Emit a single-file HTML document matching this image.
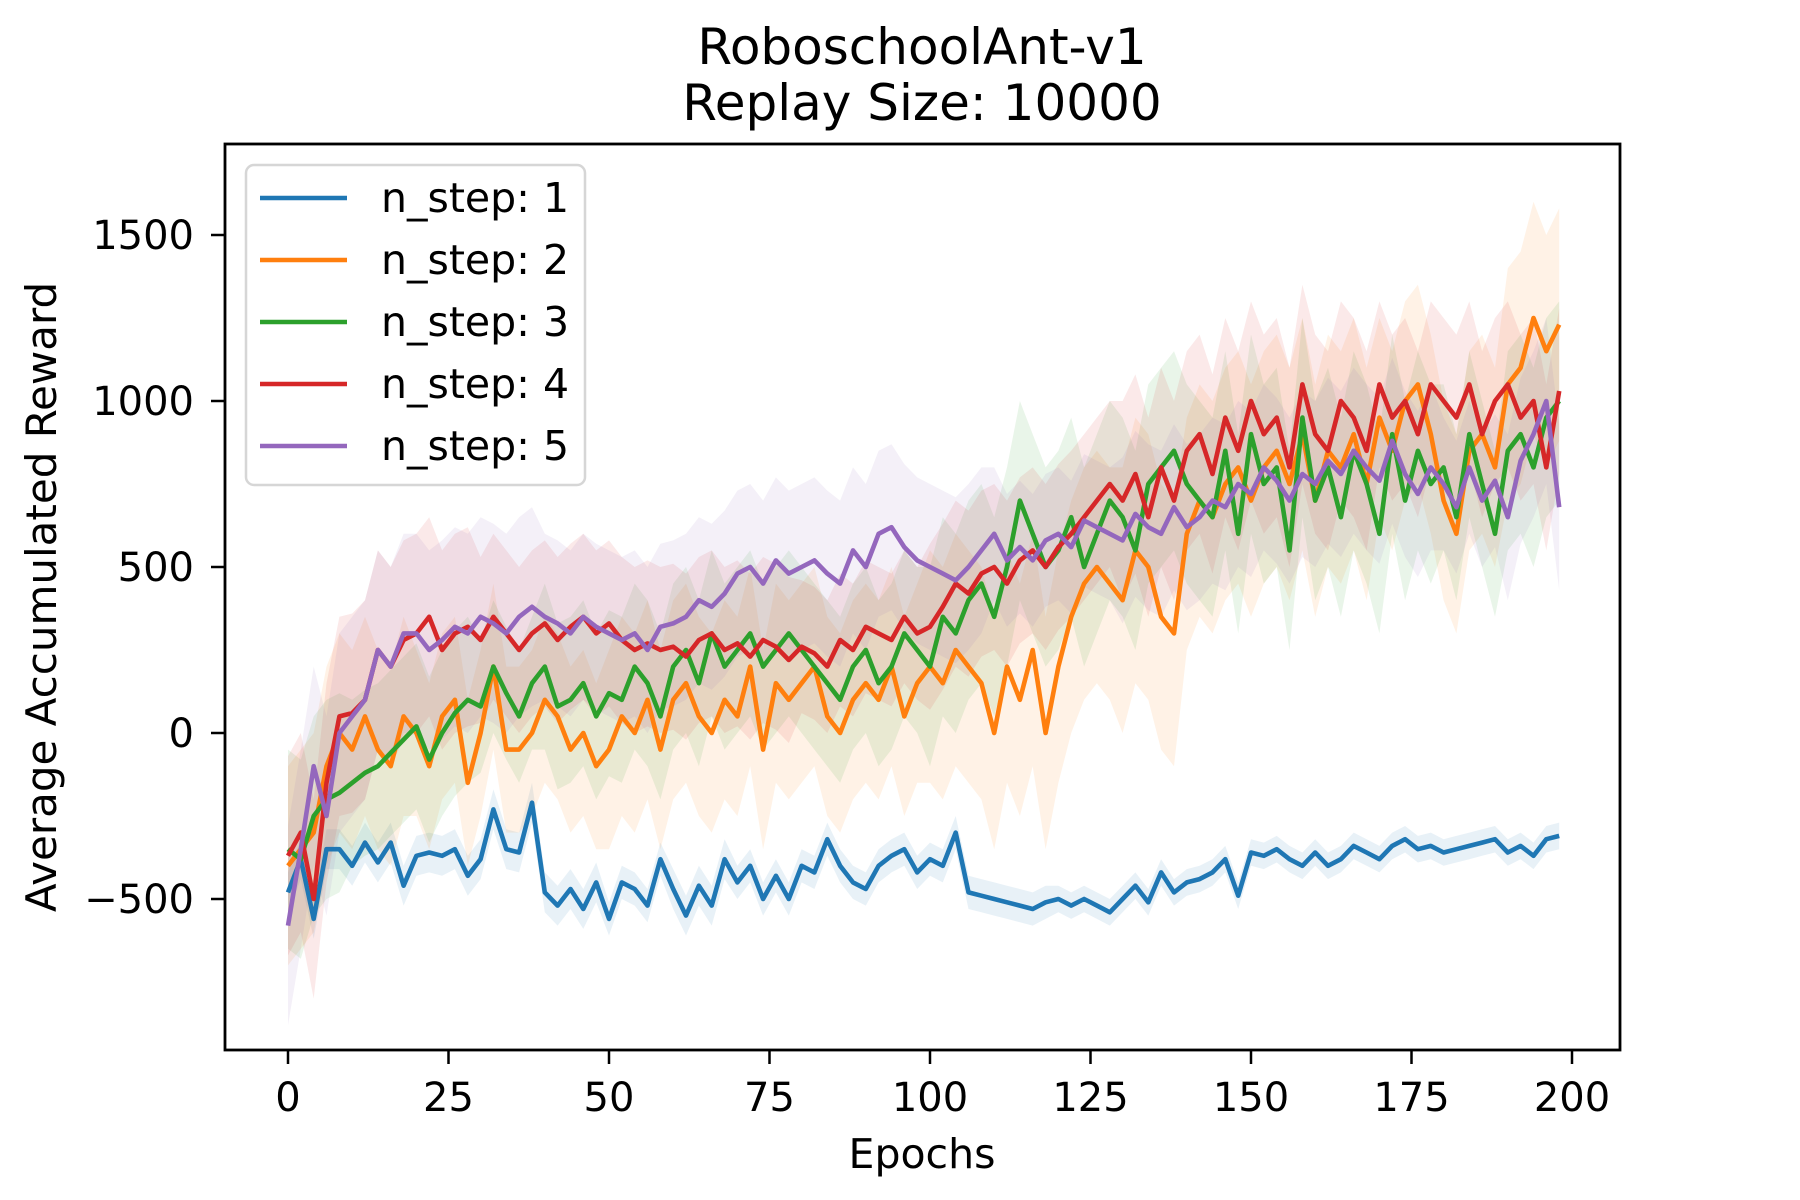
<!DOCTYPE html>
<html><head><meta charset="utf-8"><style>
html,body{margin:0;padding:0;background:#fff;}
svg{display:block;font-family:"DejaVu Sans","Liberation Sans",sans-serif;}
</style></head><body>
<svg id="chart" width="1800" height="1200" viewBox="0 0 1800 1200" xmlns="http://www.w3.org/2000/svg">
<rect width="1800" height="1200" fill="#fff"/>
<text x="922" y="64" font-size="50" text-anchor="middle">RoboschoolAnt-v1</text>
<text x="922" y="120" font-size="50" text-anchor="middle">Replay Size: 10000</text>
<g id="bands"></g>
<g id="lines"></g>
<g id="axes"></g>
<text x="922" y="1168" font-size="41" text-anchor="middle">Epochs</text>
<text transform="translate(56,597) rotate(-90)" font-size="42" text-anchor="middle">Average Accumulated Reward</text>
<g id="legend"></g>
</svg>
<script>
const epochStep = 2;
const stdStep = 10;
const seriesNames = ["n_step: 1","n_step: 2","n_step: 3","n_step: 4","n_step: 5"];
const seriesColors = ["#1f77b4","#ff7f0e","#2ca02c","#d62728","#9467bd"];
const xTicks = [0,25,50,75,100,125,150,175,200];
const yTicks = [-500,0,500,1000,1500];
const yTickLabels = ["\u2212500","0","500","1000","1500"];
const blue = [-480,-380,-560,-350,-350,-400,-330,-390,-330,-460,
-370,-360,-370,-350,-430,-380,-230,-350,-360,-210,
-480,-520,-470,-530,-450,-560,-450,-470,-520,-380,
-470,-550,-460,-520,-380,-450,-400,-500,-430,-500,
-400,-420,-320,-400,-450,-470,-400,-370,-350,-420,
-380,-400,-300,-480,-490,-500,-510,-520,-530,-510,
-500,-520,-500,-520,-540,-500,-460,-510,-420,-480,
-450,-440,-420,-380,-490,-360,-370,-350,-380,-400,
-360,-400,-380,-340,-360,-380,-340,-320,-350,-340,
-360,-350,-340,-330,-320,-360,-340,-370,-320,-310];
const orange = [-400,-350,-300,-100,0,-50,50,-50,-100,50,
0,-100,50,100,-150,0,200,-50,-50,0,
100,50,-50,0,-100,-50,50,0,100,-50,
100,150,50,0,100,50,200,-50,150,100,
150,200,50,0,100,150,100,200,50,150,
200,150,250,200,150,0,200,100,250,0,
200,350,450,500,450,400,550,500,350,300,
600,700,650,750,800,700,800,850,750,900,
700,850,800,900,750,950,850,1000,1050,900,
700,600,850,900,800,1050,1100,1250,1150,1230];
const green = [-350,-380,-250,-200,-180,-150,-120,-100,-60,-20,
20,-80,0,60,100,80,200,120,50,150,
200,80,100,150,50,120,100,200,150,50,
200,250,150,300,200,250,300,200,250,300,
250,200,150,100,200,250,150,200,300,250,
200,350,300,400,450,350,500,700,600,500,
550,650,500,600,700,650,550,750,800,850,
750,700,650,850,600,900,750,800,550,950,
700,800,650,850,750,600,900,700,850,750,
800,650,900,750,600,850,900,800,950,1000];
const red = [-370,-300,-500,-150,50,60,100,250,200,280,
300,350,250,300,320,280,350,300,250,300,
330,280,320,350,300,330,280,250,270,250,
260,230,280,300,250,270,230,280,260,220,
260,240,200,280,250,320,300,280,350,300,
320,380,450,420,480,500,450,520,550,500,
560,600,650,700,750,700,780,650,800,700,
850,900,780,950,850,1000,900,950,800,1050,
900,850,1000,950,850,1050,950,1000,900,1050,
1000,950,1050,900,1000,1050,950,1000,800,1030];
const purple = [-580,-350,-100,-250,0,50,100,250,200,300,
300,250,280,320,300,350,330,300,350,380,
350,330,300,350,320,300,280,300,250,320,
330,350,400,380,420,480,500,450,520,480,
500,520,480,450,550,500,600,620,560,520,
500,480,460,500,550,600,520,560,520,580,
600,560,640,620,600,580,660,620,600,680,
620,650,700,680,750,720,800,760,700,780,
750,820,780,850,800,760,880,780,720,800,
750,680,800,700,760,650,820,900,1000,680];
const blueStd = [60,60,60,60,60,50,60,50,50,50,50,50,40,40,40,40,40,40,40,40];
const orangeStd = [300,300,250,250,250,300,300,300,300,300,350,350,350,400,350,350,350,300,300,350];
const greenStd = [300,250,250,200,250,250,250,250,250,250,300,300,300,300,300,300,300,300,250,300];
const redStd = [300,300,300,250,250,250,250,250,200,200,250,250,250,300,300,300,300,250,250,250];
const purpleStd = [300,300,300,300,250,250,250,250,250,250,250,200,200,250,250,250,250,250,200,250];

const NS="http://www.w3.org/2000/svg";
const PL=225,PR=1620,PT=144,PB=1050;
function xs(e){return 288+(e)*(1572-288)/200;}
function ys(v){return 733-(v)*166/500;}
const allSeries=[blue,orange,green,red,purple];
const allStd=[blueStd,orangeStd,greenStd,redStd,purpleStd];
const bands=document.getElementById('bands'),lines=document.getElementById('lines'),axes=document.getElementById('axes'),legend=document.getElementById('legend');
function mk(tag,attrs,parent){const el=document.createElementNS(NS,tag);for(const k in attrs)el.setAttribute(k,attrs[k]);parent.appendChild(el);return el;}
allSeries.forEach((s,i)=>{
  const sd=allStd[i];
  const up=[],dn=[];
  s.forEach((v,j)=>{const e=j*epochStep;const d=sd[Math.min(sd.length-1,Math.floor(e/stdStep))];
    up.push(xs(e).toFixed(1)+","+ys(v+d).toFixed(1));dn.unshift(xs(e).toFixed(1)+","+ys(v-d).toFixed(1));});
  const b=mk('polygon',{points:up.concat(dn).join(' '),fill:seriesColors[i],'fill-opacity':0.1},bands);
  
  
});
allSeries.forEach((s,i)=>{
  const pts=s.map((v,j)=>xs(j*epochStep).toFixed(1)+","+ys(v).toFixed(1)).join(' ');
  const l=mk('polyline',{points:pts,fill:'none',stroke:seriesColors[i],'stroke-width':4.6,'stroke-linejoin':'round'},lines);
  
  
});
const frame=mk('rect',{x:PL,y:PT,width:PR-PL,height:PB-PT,fill:'none',stroke:'#000','stroke-width':2.8},axes);


xTicks.forEach(t=>{
  const x=xs(t);
  const tk=mk('line',{x1:x,x2:x,y1:PB,y2:PB+14,stroke:'#000','stroke-width':2.5},axes);
  
  
  const tx=mk('text',{x:x,y:1111,'font-size':40,'text-anchor':'middle'},axes);tx.textContent=t;
  
  
});
yTicks.forEach((t,i)=>{
  const y=ys(t);
  const tk=mk('line',{x1:PL-14,x2:PL,y1:y,y2:y,stroke:'#000','stroke-width':2.5},axes);
  
  
  const tx=mk('text',{x:194,y:y+14,'font-size':40,'text-anchor':'end'},axes);tx.textContent=yTickLabels[i];
  
  
});
const lb=mk('rect',{x:246,y:165,width:339,height:320,rx:8,fill:'#fff','fill-opacity':0.8,stroke:'#d6d6d6','stroke-width':2.5},legend);


seriesNames.forEach((n,i)=>{
  const y=198+i*62;
  const ln=mk('line',{x1:260,x2:347,y1:y,y2:y,stroke:seriesColors[i],'stroke-width':4.6},legend);
  
  
  const tx=mk('text',{x:381,y:y+14,'font-size':41},legend);tx.textContent=n;
  
  
});
</script>
</body></html>
